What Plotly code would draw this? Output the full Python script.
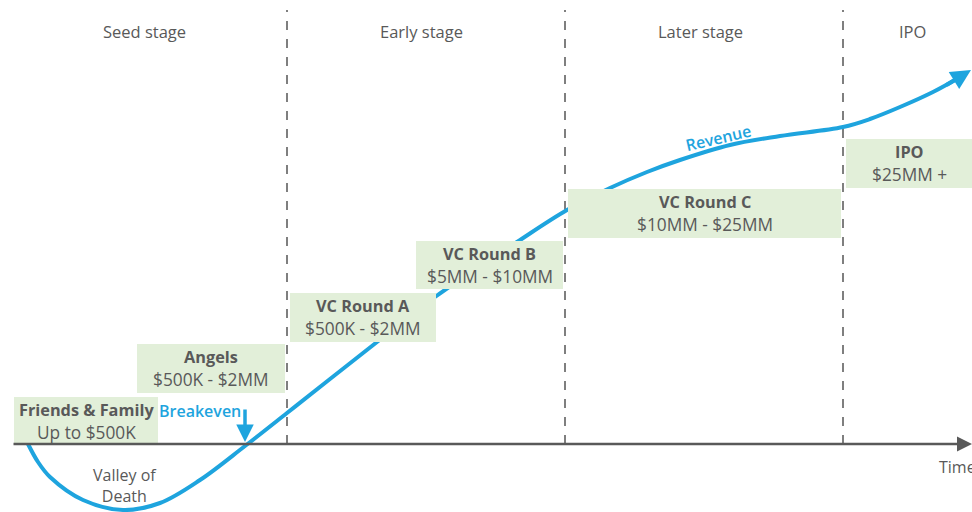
import plotly.graph_objects as go

# ---- data -------------------------------------------------------------
stages = ["Seed stage", "Early stage", "Later stage", "IPO"]
stage_bounds = [287, 565, 843]  # time positions of stage boundaries

rounds = ["Friends & Family", "Angels", "VC Round A", "VC Round B", "VC Round C", "IPO"]
amounts = ["Up to $500K", "$500K - $2MM", "$500K - $2MM", "$5MM - $10MM",
           "$10MM - $25MM", "$25MM +"]

# revenue curve (time, revenue)
time = [28, 38, 50, 83, 123, 160, 200, 245, 287, 330, 377, 435, 517, 567, 610,
        647, 680, 730, 780, 843, 870, 900, 933, 962]
revenue = [0, -18, -33, -56, -66, -59, -36, -2, 31, 65, 102, 147, 202, 234, 256,
           272, 284, 299, 308, 317, 325, 337, 352, 368]
breakeven_time = 245

# ---- layout helpers ---------------------------------------------------
header_x = [144, 421, 700, 912]
# positions of round boxes: x0, x1, top, bottom
box_pos = [(14, 158, 47, 0), (137, 285, 100, 51), (290, 436, 151, 102),
           (416, 563, 203, 155), (568, 841, 255, 206), (846, 975, 305, 256)]

BLUE = "#1ea4de"
GRAY = "#595959"
BOX = "#e2efd9"
FONT = "Open Sans"

fig = go.Figure()
fig.add_trace(go.Scatter(x=time, y=revenue, mode="lines",
                         line=dict(color=BLUE, width=4, shape="spline", smoothing=1),
                         hoverinfo="skip"))

shapes = []
annotations = []

# stage separators
for b in stage_bounds:
    shapes.append(dict(type="line", x0=b, x1=b, y0=0, y1=434, xref="x", yref="y",
                       line=dict(color="#7f7f7f", width=2, dash="dash"), layer="below"))
# stage headers
for cx, s in zip(header_x, stages):
    annotations.append(dict(x=cx, y=413, text=s, showarrow=False,
                            font=dict(family=FONT, size=16.5, color=GRAY)))

# round boxes
for r, a, (x0, x1, top, bot) in zip(rounds, amounts, box_pos):
    shapes.append(dict(type="rect", x0=x0, x1=x1, y0=bot, y1=top, xref="x", yref="y",
                       fillcolor=BOX, line=dict(width=0), layer="above"))
    cx = (x0 + min(x1, 972)) / 2
    annotations.append(dict(x=cx, y=top - 13, text="<b>" + r + "</b>", showarrow=False,
                            font=dict(family=FONT, size=16.3, color=GRAY)))
    annotations.append(dict(x=cx, y=top - 35, text=a, showarrow=False,
                            font=dict(family=FONT, size=17.3, color=GRAY)))

# time axis with arrow
annotations.append(dict(x=972, y=0, ax=12, ay=0, axref="x", ayref="y", xref="x", yref="y",
                        text="", showarrow=True, arrowhead=2, arrowsize=1.2,
                        arrowwidth=2.5, arrowcolor=GRAY))
annotations.append(dict(x=937, y=-23, text="Time", showarrow=False, xanchor="left",
                        font=dict(family=FONT, size=16, color=GRAY)))

# revenue end arrow
annotations.append(dict(x=971, y=374, ax=945, ay=358, axref="x", ayref="y",
                        xref="x", yref="y", text="", showarrow=True, arrowhead=2,
                        arrowsize=1.0, arrowwidth=4, arrowcolor=BLUE))
annotations.append(dict(x=718, y=306, text="Revenue", showarrow=False, textangle=-13,
                        font=dict(family=FONT, size=16, color=BLUE, weight=600)))

# breakeven
annotations.append(dict(x=breakeven_time, y=2, ax=0, ay=-34, text="", showarrow=True,
                        arrowhead=2, arrowsize=1.0, arrowwidth=3.5, arrowcolor=BLUE))
annotations.append(dict(x=200, y=33, text="Breakeven", showarrow=False,
                        font=dict(family=FONT, size=16, color=BLUE, weight=600)))

# valley of death
annotations.append(dict(x=125, y=-41, text="Valley of<br>Death", showarrow=False,
                        font=dict(family=FONT, size=16, color=GRAY)))

fig.update_layout(
    width=972, height=512, margin=dict(l=0, r=0, t=0, b=0),
    paper_bgcolor="white", plot_bgcolor="white", showlegend=False,
    xaxis=dict(range=[0, 972], visible=False, fixedrange=True),
    yaxis=dict(range=[-68, 444], visible=False, fixedrange=True),
    shapes=shapes, annotations=annotations,
)
fig.write_html("out.html", config={"displayModeBar": False},
               post_script="document.body.style.margin='0';document.body.style.overflow='hidden';")
